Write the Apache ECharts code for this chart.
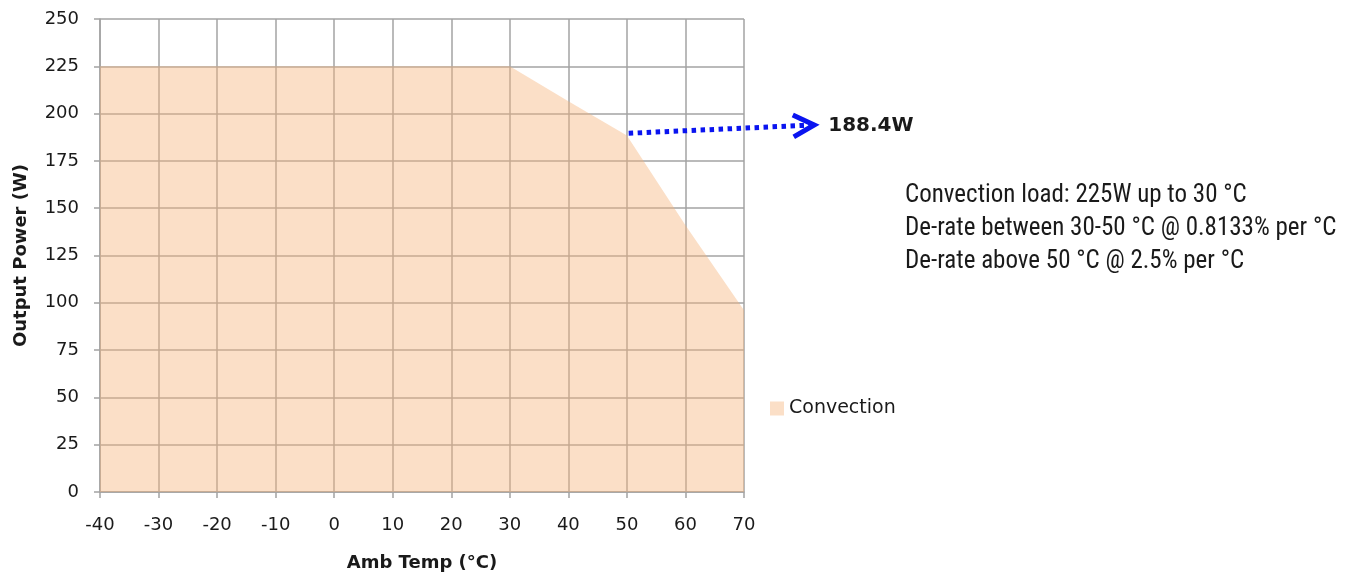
<!DOCTYPE html>
<html><head><meta charset="utf-8">
<script src="https://cdn.jsdelivr.net/npm/echarts@6/dist/echarts.min.js"></script>
<style>html,body{margin:0;padding:0;background:#fff}#c{width:1367px;height:577px}</style>
</head><body><div id="c"></div>
<script>
const temps = [-40, 30, 40, 50, 60, 70];
const power = [225, 225, 206.5, 188.4, 141, 96];
const xTicks = [-40, 70, 10];
const yTicks = [0, 250, 25];
const seriesName = 'Convection';
const notes = [
  'Convection load: 225W up to 30 \u00B0C',
  'De-rate between 30-50 \u00B0C @ 0.8133% per \u00B0C',
  'De-rate above 50 \u00B0C @ 2.5% per \u00B0C'
];
const calloutLabel = '188.4W';
const calloutFrom = [50.3, 189.6];
const calloutTo = [82.0, 194.0];

const chart = echarts.init(document.getElementById('c'));
const axisFont = "'DejaVu Sans', sans-serif";
const gridColor = '#a3a3a3';
chart.setOption({
  animation: false,
  grid: {left: 100, right: 623, top: 19, bottom: 85, outerBoundsMode: 'none', containLabel: false},
  xAxis: {
    type: 'value', min: xTicks[0], max: xTicks[1], interval: xTicks[2],
    name: 'Amb Temp (\u00B0C)', nameLocation: 'middle', nameGap: 62,
    nameTextStyle: {fontFamily: axisFont, fontWeight: 'bold', fontSize: 18, color: '#1a1a1a'},
    axisLine: {show: true, onZero: false, lineStyle: {color: gridColor, width: 1.5}},
    axisTick: {show: true, length: 6, lineStyle: {color: gridColor, width: 1.5}},
    axisLabel: {fontFamily: axisFont, fontSize: 18, color: '#1a1a1a', margin: 24},
    splitLine: {show: true, lineStyle: {color: gridColor, width: 1.5}}
  },
  yAxis: {
    type: 'value', min: yTicks[0], max: yTicks[1], interval: yTicks[2],
    name: 'Output Power (W)', nameLocation: 'middle', nameGap: 70,
    nameTextStyle: {fontFamily: axisFont, fontWeight: 'bold', fontSize: 18, color: '#1a1a1a'},
    axisLine: {show: true, onZero: false, lineStyle: {color: gridColor, width: 1.5}},
    axisTick: {show: true, length: 6, lineStyle: {color: gridColor, width: 1.5}},
    axisLabel: {fontFamily: axisFont, fontSize: 18, color: '#1a1a1a', margin: 21},
    splitLine: {show: true, lineStyle: {color: gridColor, width: 1.5}}
  },
  legend: {
    data: [{name: seriesName, icon: 'rect', itemStyle: {color: '#FBDFC7'}}],
    orient: 'vertical', left: 765, top: 394,
    itemWidth: 14, itemHeight: 14, itemGap: 6,
    textStyle: {fontFamily: axisFont, fontSize: 19, color: '#1a1a1a'}
  },
  series: [{
    name: seriesName, type: 'line',
    data: temps.map((t, i) => [t, power[i]]),
    symbol: 'none', lineStyle: {width: 0, opacity: 0},
    itemStyle: {color: '#FBDFC7'},
    areaStyle: {color: 'rgba(245,179,122,0.42)', opacity: 1, origin: 'start'},
    z: 3
  }]
});

const p0 = chart.convertToPixel({gridIndex: 0}, calloutFrom);
const p1 = chart.convertToPixel({gridIndex: 0}, calloutTo);
const ang = Math.atan2(p1[1] - p0[1], p1[0] - p0[0]);
const back = 21, spread = 11;
const ux = Math.cos(ang), uy = Math.sin(ang);
const tip = [p1[0], p1[1]];
const arm1 = [tip[0] - back * ux + spread * uy, tip[1] - back * uy - spread * ux];
const arm2 = [tip[0] - back * ux - spread * uy, tip[1] - back * uy + spread * ux];
const lineEnd = [tip[0] - 5 * ux, tip[1] - 5 * uy];

const graphics = [
  {type: 'line', z: 10, shape: {x1: p0[0], y1: p0[1], x2: lineEnd[0], y2: lineEnd[1]},
    style: {stroke: '#0a14f0', lineWidth: 5, lineDash: [4.5, 4.5], lineCap: 'butt'}},
  {type: 'polyline', z: 10, shape: {points: [arm1, tip, arm2]},
    style: {stroke: '#0a14f0', lineWidth: 5, fill: null, lineJoin: 'miter'}},
  {type: 'text', z: 10, x: tip[0] + 14, y: tip[1] + 1,
    style: {text: calloutLabel, fontFamily: axisFont, fontWeight: 'bold', fontSize: 20,
      fill: '#1a1a1a', verticalAlign: 'middle', align: 'left'}}
];
notes.forEach((t, i) => graphics.push({
  type: 'text', left: 905, top: 183 + i * 33,
  style: {text: t, fontFamily: "'Liberation Sans Narrow', 'Roboto Condensed', Roboto, sans-serif",
    fontSize: 25, fill: '#1a1a1a'}
}));
chart.setOption({graphic: graphics});
</script></body></html>
